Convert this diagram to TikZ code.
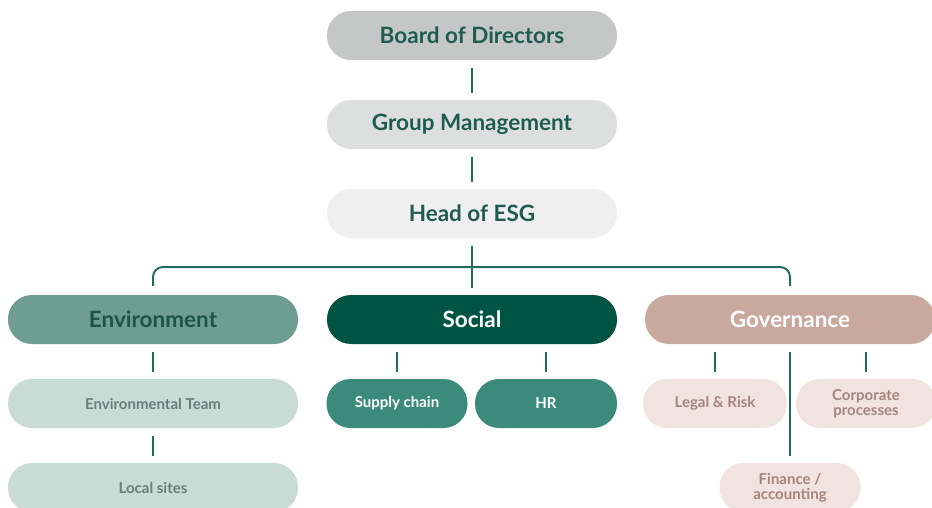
\documentclass[tikz,border=0pt]{standalone}
\usepackage{fontspec}
\setmainfont{Lato}
\definecolor{boardgray}{HTML}{C5C7C6}
\definecolor{groupgray}{HTML}{DDDFDE}
\definecolor{headgray}{HTML}{EFEFEF}
\definecolor{darktext}{HTML}{1F5C50}
\definecolor{envfill}{HTML}{6F9D91}
\definecolor{envtext}{HTML}{1D5447}
\definecolor{socfill}{HTML}{005444}
\definecolor{govfill}{HTML}{C9A89D}
\definecolor{envsub}{HTML}{C8DBD5}
\definecolor{envsubtext}{HTML}{6A7D78}
\definecolor{socsub}{HTML}{3B8A7B}
\definecolor{govsub}{HTML}{F1E3DF}
\definecolor{govsubtext}{HTML}{A5857B}
\definecolor{linkgreen}{HTML}{1F6C5D}
\tikzset{
  pill/.style={rectangle, rounded corners=24pt, minimum width=290pt,
    minimum height=49pt, inner sep=0pt, font=\bfseries\fontsize{22.5}{26}\selectfont},
  smallpill/.style={pill, font=\bfseries\fontsize{15}{15}\selectfont, align=center},
  link/.style={draw=linkgreen, line width=2pt, shorten <=8pt, shorten >=7pt}
}
\begin{document}
\begin{tikzpicture}[x=1pt,y=-1pt]
    \useasboundingbox (0,0) rectangle (932,508);

    % Draw the top of the chart
    \node[pill, fill=boardgray, text=darktext] (board) at (472,35.5) {Board of Directors};
    \node[pill, fill=groupgray, text=darktext] (group) at (472,124.5) {Group Management};
    \node[pill, fill=headgray, text=darktext] (head) at (472,213.5) {Head of ESG};

    % Draw the three pillars
    \node[pill, fill=envfill, text=envtext] (env) at (153,319.5) {Environment};
    \node[pill, fill=socfill, text=white] (social) at (472,319.5) {Social};
    \node[pill, fill=govfill, text=white] (gov) at (790,319.5) {Governance};

    % Environment branch
    \node[smallpill, fill=envsub, text=envsubtext] (envteam) at (153,403.5) {Environmental Team};
    \node[smallpill, fill=envsub, text=envsubtext] (sites) at (153,487.5) {Local sites};

    % Social branch
    \node[smallpill, fill=socsub, text=white, minimum width=141pt] (supply) at (397,403.5) {Supply chain};
    \node[smallpill, fill=socsub, text=white, minimum width=142pt] (hr) at (546,403.5) {HR};

    % Governance branch
    \node[smallpill, fill=govsub, text=govsubtext, minimum width=144pt] (legal) at (715,403.5) {Legal \& Risk};
    \node[smallpill, fill=govsub, text=govsubtext, minimum width=140pt] (corp) at (866,403.5) {Corporate\\processes};
    \node[smallpill, fill=govsub, text=govsubtext, minimum width=141pt] (finance) at (790,487.5) {Finance /\\accounting};

    % Draw lines between the boxes
    \draw[link] (board) -- (group);
    \draw[link] (group) -- (head);
    \draw[link] (head) -- (social);
    \coordinate (bar) at (472,267);
    \draw[draw=linkgreen, line width=2pt, rounded corners=10pt]
        ([yshift=9pt]env.north) |- (bar) -| ([yshift=9pt]gov.north);
    \draw[link] (env) -- (envteam);
    \draw[link] (envteam) -- (sites);
    \draw[link] (social.south -| supply.north) -- (supply.north);
    \draw[link] (social.south -| hr.north) -- (hr.north);
    \draw[link] (gov.south -| legal.north) -- (legal.north);
    \draw[link] (gov.south -| corp.north) -- (corp.north);
    \draw[link] (gov) -- (finance);

\end{tikzpicture}
\end{document}
